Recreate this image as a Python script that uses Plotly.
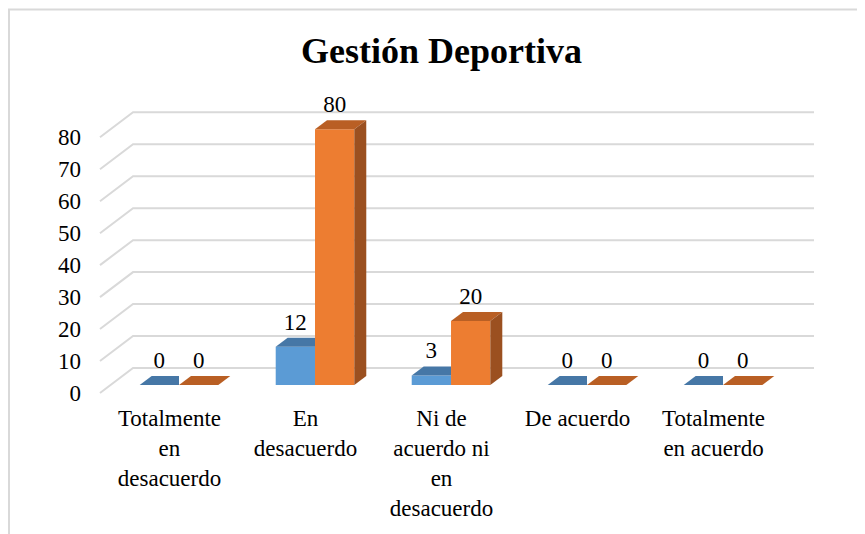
import plotly.graph_objects as go

# ---------------- data ----------------
categories = ["Totalmente<br>en<br>desacuerdo", "En<br>desacuerdo",
              "Ni de<br>acuerdo ni<br>en<br>desacuerdo", "De acuerdo",
              "Totalmente<br>en acuerdo"]
serie_azul = [0, 12, 3, 0, 0]
serie_naranja = [0, 80, 20, 0, 0]
y_ticks = [0, 10, 20, 30, 40, 50, 60, 70, 80]
title_text = "Gestión Deportiva"

# ---------------- style / geometry constants (data units) ----------------
FONT = "Liberation Serif"
BAR_W = 0.289
DX, DY = 0.088, 2.82            # bar depth (pseudo 3D)
FRONT_DY = -2.5                 # floor front plane offset
BACK_DY = 5.32                  # back wall offset
WALL_LEFT_FRONT = -0.581
WALL_LEFT_BACK = -0.338
WALL_RIGHT_BACK = 4.669
LABEL_OFF = 7.1

BLUE, BLUE_TOP, BLUE_SIDE = "#5b9bd5", "#4677a6", "#3f6b96"
ORANGE, ORANGE_TOP, ORANGE_SIDE = "#ed7d31", "#b95f24", "#9b5020"
GRID = "#d9d9d9"

# figure geometry (page has an 8px body margin)
W, H = 857, 526
ML, MR, MT, MB = 90, 45, 92, 134
PW, PH = W - ML - MR, H - MT - MB

x_idx = list(range(len(categories)))

fig = go.Figure()

# gridlines in perspective (front diagonal + back wall) as shapes below traces
shapes = []
for v in y_ticks:
    path = "M {},{} L {},{} L {},{}".format(WALL_LEFT_FRONT, v + FRONT_DY,
                                           WALL_LEFT_BACK, v + BACK_DY,
                                           WALL_RIGHT_BACK, v + BACK_DY)
    shapes.append(dict(type="path", xref="x", yref="y", path=path,
                       line=dict(color=GRID, width=2), layer="below"))
# outer chart frame
shapes.append(dict(type="rect", xref="paper", yref="paper",
                   x0=(1 - ML) / PW, x1=(W + 10 - ML) / PW,
                   y0=(MT + PH - (H + 10)) / PH, y1=(MT + PH - 1.5) / PH,
                   line=dict(color=GRID, width=2), fillcolor="rgba(0,0,0,0)", layer="below"))

# front faces (bars)
fig.add_trace(go.Bar(x=x_idx, y=serie_azul, width=BAR_W, offset=-BAR_W,
                     marker=dict(color=BLUE, line=dict(width=0)), showlegend=False,
                     name="Serie 1"))
fig.add_trace(go.Bar(x=x_idx, y=serie_naranja, width=BAR_W, offset=0,
                     marker=dict(color=ORANGE, line=dict(width=0)), showlegend=False,
                     name="Serie 2"))


def faces(values, x_left, top_color, side_color, neighbour=None):
    for k, (i, v) in enumerate(zip(x_idx, values)):
        x0 = i + x_left
        x1 = x0 + BAR_W
        if neighbour is not None and neighbour[k] >= v:
            # right part hidden behind the taller neighbouring bar
            tx = [x0, x1, x1, x0 + DX, x0]
        else:
            tx = [x0, x1, x1 + DX, x0 + DX, x0]
        ty = [v, v, v + DY, v + DY, v]
        fig.add_trace(go.Scatter(x=tx, y=ty, mode="lines", fill="toself",
                                 fillcolor=top_color, line=dict(width=0, color=top_color),
                                 hoverinfo="skip", showlegend=False))
        if v > 0 and (neighbour is None or neighbour[k] < v):
            fig.add_trace(go.Scatter(
                x=[x1, x1, x1 + DX, x1 + DX, x1], y=[0, v, v + DY, DY, 0],
                mode="lines", fill="toself", fillcolor=side_color,
                line=dict(width=0, color=side_color), hoverinfo="skip", showlegend=False))


faces(serie_azul, -BAR_W, BLUE_TOP, BLUE_SIDE, neighbour=serie_naranja)
faces(serie_naranja, 0.0, ORANGE_TOP, ORANGE_SIDE)

# value labels
for vals, xl in ((serie_azul, -BAR_W / 2), (serie_naranja, BAR_W / 2)):
    fig.add_trace(go.Scatter(
        x=[i + xl for i in x_idx], y=[v + LABEL_OFF for v in vals],
        mode="text", text=[str(v) for v in vals], textposition="middle center",
        textfont=dict(family=FONT, size=23, color="#000000"),
        cliponaxis=False, hoverinfo="skip", showlegend=False))

fig.update_layout(
    width=W, height=H, autosize=False,
    margin=dict(l=ML, r=MR, t=MT, b=MB),
    paper_bgcolor="white", plot_bgcolor="white",
    barmode="overlay",
    font=dict(family=FONT, color="#000000"),
    title=dict(text="<b>" + title_text + "</b>", x=433.5 / W, xanchor="center",
               y=1 - 42 / H, yanchor="middle", yref="container",
               font=dict(family=FONT, size=36, color="#000000")),
    xaxis=dict(range=[-0.5956, 4.713], tickvals=[i - 0.07 for i in x_idx],
               ticktext=categories, showgrid=False, zeroline=False, showline=False,
               ticks="", tickfont=dict(family=FONT, size=23, color="#000000"),
               ticklabelstandoff=2),
    yaxis=dict(range=[-4.693, 89.17], tickvals=[v + FRONT_DY for v in y_ticks],
               ticktext=[str(v) for v in y_ticks], showgrid=False, zeroline=False,
               showline=False, ticks="", tickfont=dict(family=FONT, size=23, color="#000000"),
               ticklabelstandoff=16),
    shapes=shapes,
)

fig.write_html("out.html")
